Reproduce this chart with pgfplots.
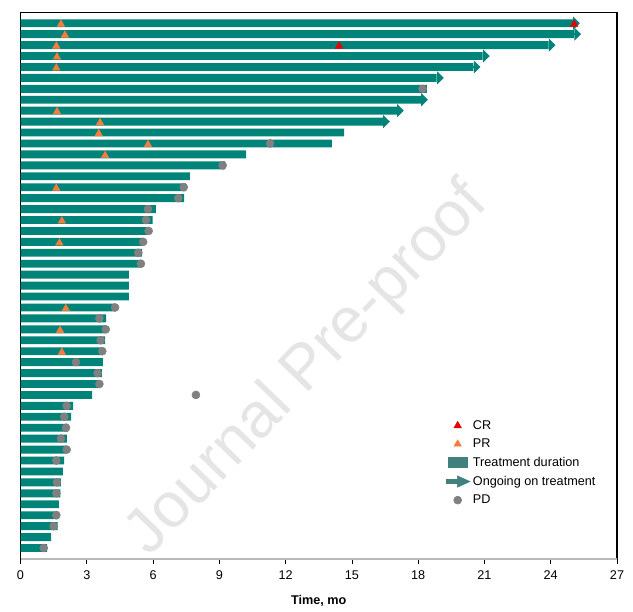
\documentclass[border=0pt]{standalone}
\usepackage{fontspec}
\setmainfont{Liberation Sans}
\usepackage{pgfplots}
\pgfplotsset{compat=1.18}
\usepackage{pgfplotstable}
\usetikzlibrary{arrows.meta}
\definecolor{barteal}{RGB}{0,131,121}
\definecolor{legteal}{RGB}{64,128,126}
\definecolor{prorange}{RGB}{245,125,60}
\definecolor{crred}{RGB}{235,0,0}
\definecolor{pdgray}{RGB}{128,128,128}

\pgfplotstableread{
y len
49 25.00
48 25.05
47 23.90
46 20.92
45 20.50
44 18.84
43 18.39
42 18.12
41 17.03
40 16.40
39 14.65
38 14.09
37 10.21
36 9.26
35 7.67
34 7.49
33 7.40
32 6.13
31 5.98
30 5.72
29 5.51
28 5.51
27 5.45
26 4.91
25 4.91
24 4.91
23 4.28
22 3.87
21 3.83
20 3.83
19 3.70
18 3.73
17 3.68
16 3.57
15 3.24
14 2.38
13 2.29
12 2.16
11 2.10
10 2.09
9 1.97
8 1.92
7 1.83
6 1.80
5 1.74
4 1.71
3 1.68
2 1.38
1 1.20
}\durtable

\pgfplotstableread{
y x u
49 25.00 0.32
48 25.05 0.32
47 23.90 0.32
46 20.92 0.32
45 20.50 0.32
44 18.84 0.32
42 18.12 0.32
41 17.03 0.32
40 16.40 0.32
}\arrowtable

\pgfplotstableread{
y x
49 1.83
48 2.01
47 1.62
46 1.65
45 1.62
41 1.65
40 3.60
39 3.54
38 5.77
37 3.83
34 1.62
31 1.87
29 1.76
23 2.05
21 1.79
19 1.87
}\prtable

\pgfplotstableread{
y x
49 25.06
47 14.42
}\crtable

\pgfplotstableread{
y x
43 18.20
38 11.30
36 9.15
34 7.39
33 7.14
32 5.77
31 5.68
30 5.80
29 5.55
28 5.33
27 5.45
23 4.28
22 3.57
21 3.86
20 3.63
19 3.70
18 2.51
17 3.49
16 3.57
15 7.94
14 2.09
13 1.98
12 2.06
11 1.83
10 2.09
9 1.62
7 1.65
6 1.62
4 1.62
3 1.50
1 1.05
}\pdtable

\begin{document}
\begin{tikzpicture}
\begin{axis}[
  scale only axis,
  width=447.4pt, height=410pt,
  xmin=0, xmax=27, ymin=0, ymax=50,
  xtick={0,3,...,27}, ytick=\empty,
  xtick pos=left, tick align=outside, major tick length=4pt,
  xtick style={black, line width=0.6pt},
  axis line style={black, line width=0.8pt},
  font=\fontsize{9.5}{11}\selectfont,
  /pgf/number format/assume math mode=true,
  xticklabel style={yshift=-1.5pt},
  xlabel={\textbf{Time, mo}},
  xlabel style={yshift=-4.5pt},
  clip=false,
  legend style={draw=none, fill=none, at={(axis cs:19.05,13.2)}, anchor=north west,
    row sep=1.75pt, font=\fontsize{9.5}{11}\selectfont},
  legend cell align=left,
]
\node[rotate=46, text=gray!20, font=\fontsize{47.5}{47.5}\selectfont] at (axis cs:13.0,17.3) {Journal Pre-proof};

\addlegendimage{only marks, mark=triangle*, color=crred, mark size=3.2pt}
\addlegendentry{CR}
\addlegendimage{only marks, mark=triangle*, color=prorange, mark size=3.2pt}
\addlegendentry{PR}
\addlegendimage{legend image code/.code={\fill[legteal] (0.05cm,-0.13cm) rectangle (0.55cm,0.13cm);}}
\addlegendentry{Treatment duration}
\addlegendimage{legend image code/.code={\fill[legteal] (-0.01cm,-0.05cm) rectangle (0.3cm,0.05cm); \fill[legteal] (0.29cm,-0.15cm) -- (0.625cm,0cm) -- (0.29cm,0.15cm) -- cycle;}}
\addlegendentry{Ongoing on treatment}
\addlegendimage{only marks, mark=*, color=pdgray, mark size=3pt}
\addlegendentry{PD}

\addplot[forget plot, xbar, fill=barteal, draw=none, bar width=0.72] table[x=len, y=y] {\durtable};
\addplot[forget plot, barteal, line width=2pt, quiver={u=\thisrow{u}, v=0},
  -{Triangle[length=5pt, width=9.5pt]}] table[x=x, y=y] {\arrowtable};
\addplot[forget plot, only marks, mark=triangle*, color=prorange, mark size=3.2pt,
  mark options={yshift=-0.8pt}] table[x=x, y=y] {\prtable};
\addplot[forget plot, only marks, mark=triangle*, color=crred, mark size=3.2pt,
  mark options={yshift=-0.8pt}] table[x=x, y=y] {\crtable};
\addplot[forget plot, only marks, mark=*, color=pdgray, mark size=3pt] table[x=x, y=y] {\pdtable};

\draw[gray!55, line width=1pt] (rel axis cs:0,0) -- (rel axis cs:1,0);
\path (rel axis cs:-0.0344,-0.0969) rectangle (rel axis cs:1.0268,1.0225);
\end{axis}
\end{tikzpicture}
\end{document}
